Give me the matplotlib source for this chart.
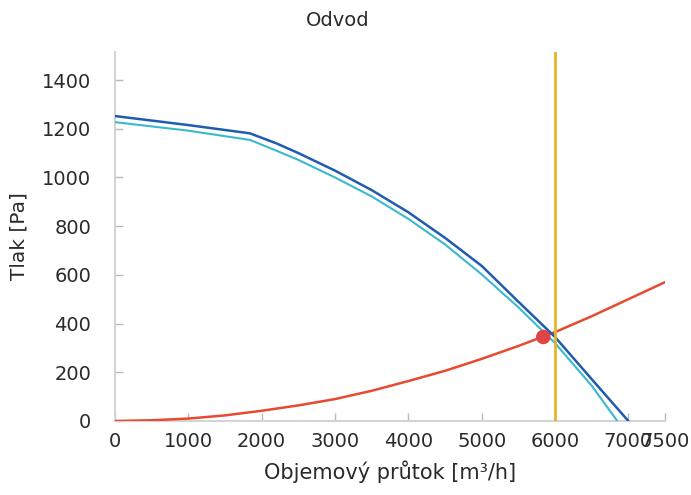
import matplotlib
matplotlib.use("Agg")
import matplotlib.pyplot as plt

# Data
fan_x = [0, 1000, 1840, 2200, 2500, 3000, 3500, 4000, 4500, 5000, 5500, 6000, 6500, 7000]
fan_p = [1252, 1215, 1181, 1140, 1100, 1028, 948, 857, 752, 637, 490, 345, 172, 0]

fan2_x = [0, 1000, 1840, 2200, 2500, 3000, 3500, 4000, 4500, 5000, 5500, 6000, 6500, 6850]
fan2_p = [1227, 1192, 1154, 1110, 1072, 1000, 922, 830, 725, 602, 467, 320, 145, 0]

sys_x = [0, 500, 1000, 1500, 2000, 2500, 3000, 3500, 4000, 4500, 5000, 5500, 6000, 6500, 7000, 7500]
sys_p = [0, 3, 10, 23, 42, 64, 90, 124, 164, 206, 255, 308, 365, 430, 500, 570]

op_x = [5840]
op_p = [345]

design_x = 6000

x_ticks = [0, 1000, 2000, 3000, 4000, 5000, 6000, 7000, 7500]
y_ticks = [0, 200, 400, 600, 800, 1000, 1200, 1400]

title = "Odvod"
xlabel = "Objemový průtok [m³/h]"
ylabel = "Tlak [Pa]"

fig = plt.figure(figsize=(6.91, 4.95), dpi=100)
ax = fig.add_axes([115/691, 1 - 421/495, 550/691, (421-52)/495])

kw = dict(solid_joinstyle="round", solid_capstyle="round")
ax.plot(sys_x, sys_p, color="#e84a30", lw=1.8, zorder=3, **kw)
ax.plot(fan2_x, fan2_p, color="#3cb8cc", lw=1.5, zorder=3, **kw)
ax.plot(fan_x, fan_p, color="#1f5cb0", lw=1.8, zorder=4, **kw)
ax.axvline(design_x, color="#e4b42a", lw=2, zorder=5)
ax.scatter(op_x, op_p, s=110, color="#e04545", zorder=6, edgecolors="none")

ax.set_xlim(0, 7500)
ax.set_ylim(0, 1515)
ax.set_xticks(x_ticks)
ax.set_yticks(y_ticks)
ax.set_xticklabels([str(v) for v in x_ticks], fontsize=14, color="#2a2a2a")
ax.set_yticklabels([str(v) for v in y_ticks], fontsize=14, color="#2a2a2a")
ax.tick_params(axis="both", direction="in", length=6, width=1, color="#b8b8b8")
ax.tick_params(axis="y", pad=17)
ax.tick_params(axis="x", pad=8)

for s in ["top", "right"]:
    ax.spines[s].set_visible(False)
for s in ["left", "bottom"]:
    ax.spines[s].set_color("#d4d4d4")
    ax.spines[s].set_linewidth(1.5)

ax.set_xlabel(xlabel, fontsize=15, color="#2a2a2a", labelpad=7)
ax.set_ylabel(ylabel, fontsize=14.5, color="#2a2a2a", labelpad=10)
fig.text(338/691, 1 - 20/495, title, ha="center", va="center", fontsize=14, color="#2a2a2a")

fig.savefig("out.png", dpi=100)
